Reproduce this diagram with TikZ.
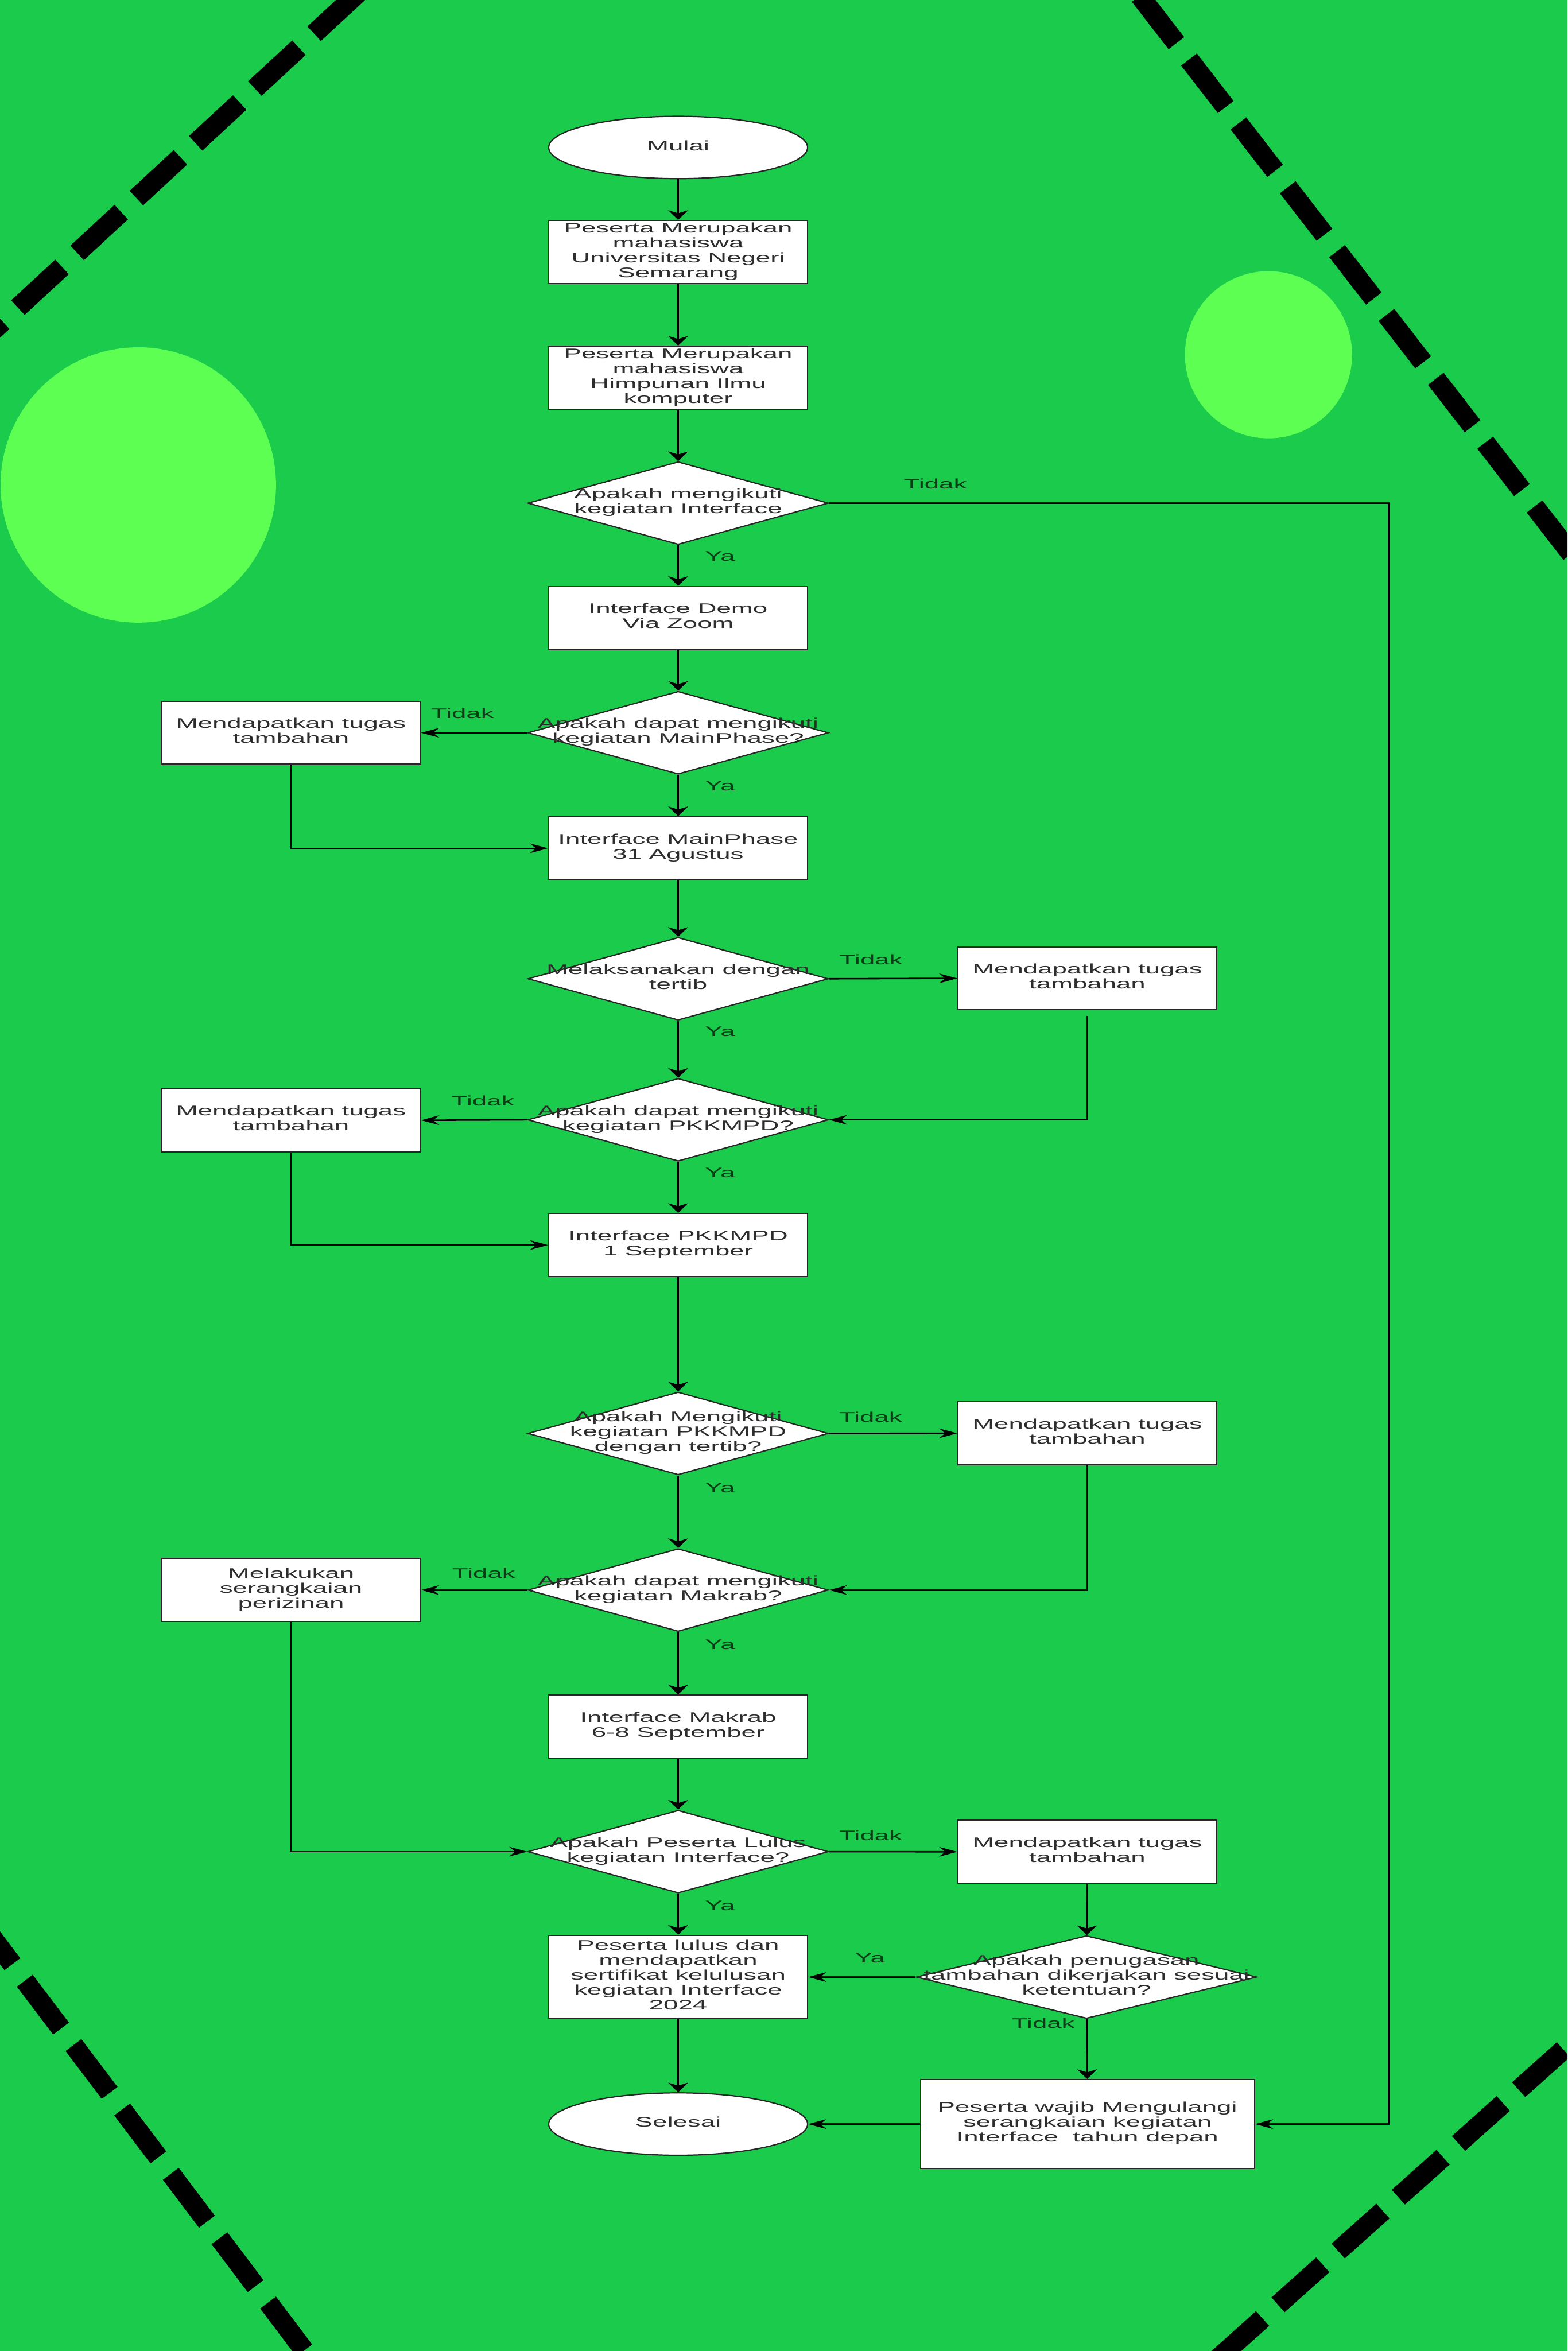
\documentclass[tikz,border=0pt]{standalone}
\usepackage{fontspec}
\setmainfont{Liberation Sans}
\usepackage{graphicx}
\usetikzlibrary{shapes.geometric,arrows.meta}
\definecolor{bg}{RGB}{27,204,76}
\definecolor{blob}{RGB}{92,255,82}
\definecolor{txtc}{RGB}{45,45,45}
\definecolor{lblc}{RGB}{10,60,22}
\newcommand{\wt}[1]{\scalebox{1.88}[1]{\begin{tabular}{@{}c@{}}#1\end{tabular}}}
\begin{document}
\begin{tikzpicture}[x=0.05cm,y=-0.05cm,
  tfont/.style={font=\fontsize{13.2}{14.1}\selectfont},
  box/.style={rectangle,draw=black!85,fill=white,line width=1.2pt,minimum width=8.63cm,minimum height=2.1cm,inner sep=0pt,text=txtc,tfont},
  term/.style={ellipse,draw=black!85,fill=white,line width=1.2pt,minimum width=8.63cm,minimum height=2.08cm,inner sep=0pt,text=txtc,tfont},
  dia/.style={diamond,draw=black!85,fill=white,line width=1.2pt,minimum width=10.02cm,minimum height=2.76cm,inner sep=0pt},
  dtxt/.style={inner sep=0pt,text=txtc,tfont},
  lbl/.style={inner sep=0pt,text=lblc,tfont},
  va/.style={draw=black,line width=1.6pt,-{Stealth[length=0.32cm,width=0.66cm,inset=0.1cm]}},
  ha/.style={draw=black,line width=1.4pt,-{Stealth[length=0.6cm,width=0.32cm,inset=0.2cm]}},
  dashline/.style={line width=0.66cm,dash pattern=on 2cm off 0.69cm}
]
\useasboundingbox (0,0) rectangle (1045,1567.3);
\fill[bg] (0,0) rectangle (1045,1567.3);
\begin{scope}
\clip (0,0) rectangle (1045,1567.3);
\fill[blob] (92.2,323.3) circle[radius=91.8];
\fill[blob] (845.7,236.5) circle[radius=55.7];
\draw[dashline] (238.8,-4.7) -- (-15,230);
\draw[dashline] (759.8,-2.85) -- (1057.2,381.8);
\draw[dashline] (-15.9,1277.5) -- (215,1583);
\draw[dashline] (1042.3,1366.4) -- (800,1583);
\end{scope}

% main column
\node[term] (mulai) at (452.1,98.3) {\wt{Mulai}};
\node[box] (b1) at (452.1,168) {\wt{Peserta Merupakan\\mahasiswa\\Universitas Negeri\\Semarang}};
\node[box] (b2) at (452.1,251.8) {\wt{Peserta Merupakan\\mahasiswa\\Himpunan Ilmu\\komputer}};
\node[dia] (d1) at (452.1,335.4) {};
\node[dtxt] (d1t) at (d1.center) {\wt{Apakah mengikuti\\kegiatan Interface}};
\node[box] (demo) at (452.1,412) {\wt{Interface Demo\\Via Zoom}};
\node[dia] (d2) at (452.1,488.5) {};
\node[dtxt] (d2t) at (d2.center) {\wt{Apakah dapat mengikuti\\kegiatan MainPhase?}};
\node[box] (l1) at (194,488.5) {\wt{Mendapatkan tugas\\tambahan}};
\node[box] (mp) at (452.1,565.5) {\wt{Interface MainPhase\\31 Agustus}};
\node[dia] (d3) at (452.1,652.5) {};
\node[dtxt] (d3t) at (d3.center) {\wt{Melaksanakan dengan\\tertib}};
\node[box] (r1) at (724.9,652.2) {\wt{Mendapatkan tugas\\tambahan}};
\node[dia] (d4) at (452.1,746.5) {};
\node[dtxt] (d4t) at (d4.center) {\wt{Apakah dapat mengikuti\\kegiatan PKKMPD?}};
\node[box] (l2) at (194,746.8) {\wt{Mendapatkan tugas\\tambahan}};
\node[box] (pk) at (452.1,830) {\wt{Interface PKKMPD\\1 September}};
\node[dia] (d5) at (452.1,955.6) {};
\node[dtxt] (d5t) at (d5.center) {\wt{Apakah Mengikuti\\kegiatan PKKMPD\\dengan tertib?}};
\node[box] (r2) at (724.9,955.5) {\wt{Mendapatkan tugas\\tambahan}};
\node[dia] (d6) at (452.1,1060) {};
\node[dtxt] (d6t) at (d6.center) {\wt{Apakah dapat mengikuti\\kegiatan Makrab?}};
\node[box] (l3) at (194,1060) {\wt{Melakukan\\serangkaian\\perizinan}};
\node[box] (mk) at (452.1,1151) {\wt{Interface Makrab\\6-8 September}};
\node[dia] (d7) at (452.1,1234.4) {};
\node[dtxt] (d7t) at (d7.center) {\wt{Apakah Peserta Lulus\\kegiatan Interface?}};
\node[box] (r3) at (724.9,1234.5) {\wt{Mendapatkan tugas\\tambahan}};
\node[box,minimum height=2.78cm] (cert) at (452.1,1318) {\wt{Peserta lulus dan\\mendapatkan\\sertifikat kelulusan\\kegiatan Interface\\2024}};
\node[dia,minimum width=11.35cm] (d8) at (724.4,1318) {};
\node[dtxt] (d8t) at (d8.center) {\wt{Apakah penugasan\\tambahan dikerjakan sesuai\\ketentuan?}};
\node[term] (selesai) at (452.1,1416) {\wt{Selesai}};
\node[box,minimum width=11.13cm,minimum height=2.97cm] (wajib) at (725,1416) {\wt{Peserta wajib Mengulangi\\serangkaian kegiatan\\Interface\ \ tahun depan}};

\coordinate (rtop) at (925.7,335.4);

% connectors
\draw[va] (mulai) -- (b1);
\draw[va] (b1) -- (b2);
\draw[va] (b2) -- (d1);
\draw[va] (d1) -- (demo);
\draw[ha] (d1.east) -- (rtop) |- (wajib.east);
\draw[va] (demo) -- (d2);
\draw[ha] (d2.west) -- (l1.east);
\draw[va] (d2) -- (mp);
\draw[ha] (l1.south) |- (mp.west);
\draw[va] (mp) -- (d3);
\draw[ha] (d3.east) -- (r1.west);
\draw[va] (d3) -- (d4);
\draw[ha] ([yshift=-0.18cm]r1.south) |- (d4.east);
\draw[ha] (d4.west) -- (l2.east);
\draw[va] (d4) -- (pk);
\draw[ha] (l2.south) |- (pk.west);
\draw[va] (pk) -- (d5);
\draw[ha] (d5.east) -- (r2.west);
\draw[va] (d5) -- (d6);
\draw[ha] (r2.south) |- (d6.east);
\draw[ha] (d6.west) -- (l3.east);
\draw[va] (d6) -- (mk);
\draw[ha] (l3.south) |- (d7.west);
\draw[va] (mk) -- (d7);
\draw[ha] (d7.east) -- (r3.west);
\draw[va] (d7) -- (cert);
\draw[va] (r3) -- (d8);
\draw[ha] (d8.west) -- (cert.east);
\draw[va] (d8) -- (wajib);
\draw[va] (cert) -- (selesai);
\draw[ha] (wajib.west) -- (selesai.east);

% labels
\node[lbl] (t1) at (623.5,324) {\wt{Tidak}};
\node[lbl] (y1) at (480,372) {\wt{Ya}};
\node[lbl] (t2) at (308.3,477) {\wt{Tidak}};
\node[lbl] (y2) at (480,525) {\wt{Ya}};
\node[lbl] (t3) at (580.7,641) {\wt{Tidak}};
\node[lbl] (y3) at (480,689) {\wt{Ya}};
\node[lbl] (t4) at (322,735) {\wt{Tidak}};
\node[lbl] (y4) at (480,783) {\wt{Ya}};
\node[lbl] (t5) at (580.4,946) {\wt{Tidak}};
\node[lbl] (y5) at (480,993) {\wt{Ya}};
\node[lbl] (t6) at (322.5,1050) {\wt{Tidak}};
\node[lbl] (y6) at (480,1097.5) {\wt{Ya}};
\node[lbl] (t7) at (580.5,1225) {\wt{Tidak}};
\node[lbl] (y7) at (480,1271.6) {\wt{Ya}};
\node[lbl] (y8) at (580,1306.4) {\wt{Ya}};
\node[lbl] (t8) at (695.5,1350) {\wt{Tidak}};
\end{tikzpicture}
\end{document}
